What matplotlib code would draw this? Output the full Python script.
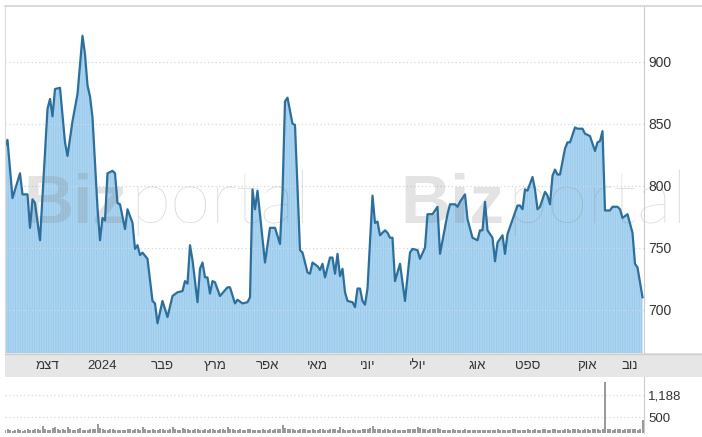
import matplotlib
matplotlib.use("Agg")
import matplotlib.pyplot as plt
from matplotlib.patches import Rectangle
from matplotlib.lines import Line2D

plt.rcParams['font.family'] = ['Liberation Sans', 'DejaVu Sans']
plt.rcParams['hatch.linewidth'] = 0.6

# --- Datos (sesiones de bolsa, aprox. nov 2023 - nov 2024) ---
sessions = [0, 1, 3, 6, 7, 9, 10, 11, 12, 14, 17, 18, 19, 20, 22, 24, 25, 27, 29, 31,
            32, 33, 34, 35, 37, 38, 39, 40, 41, 43, 44, 45, 46, 48, 49, 51, 52, 53, 54, 55,
            57, 59, 60, 61, 63, 65, 67, 69, 71, 72, 73, 74, 75, 77, 78, 79, 80, 81, 82, 83,
            84, 86, 89, 90, 92, 93, 95, 97, 98, 99, 100, 101, 104, 106, 108, 110, 111, 112, 113, 115,
            116, 118, 119, 121, 122, 123, 125, 126, 127, 128, 130, 131, 132, 133, 134, 135, 136, 137, 139, 140,
            141, 142, 143, 144, 145, 147, 148, 149, 150, 152, 153, 154, 155, 156, 158, 160, 162, 163, 165, 166,
            168, 169, 171, 173, 174, 177, 178, 180, 181, 182, 184, 185, 187, 189, 190, 191, 192, 193, 195, 196,
            197, 199, 200, 201, 205, 206, 207, 208, 209, 211, 212, 213, 214, 216, 217, 218, 219, 220, 221, 222,
            224, 225, 226, 228, 229, 231, 232, 233, 234, 236, 237, 238, 239, 240, 242, 243, 245, 246, 247, 249,
            251, 252, 253, 255]
prices = [832, 837, 790, 810, 793, 793, 766, 789, 786, 756, 862, 870, 856, 878, 879, 835, 824, 852, 874, 921,
          906, 881, 872, 855, 782, 756, 774, 772, 810, 812, 810, 786, 785, 765, 781, 770, 749, 752, 744, 746,
          741, 707, 705, 689, 707, 694, 711, 714, 715, 723, 721, 752, 740, 706, 733, 738, 726, 726, 713, 723,
          722, 711, 718, 718, 705, 708, 705, 706, 710, 797, 781, 796, 738, 766, 766, 753, 794, 868, 871, 850,
          849, 748, 746, 730, 729, 738, 735, 732, 737, 726, 742, 742, 729, 745, 727, 733, 714, 707, 706, 702,
          717, 717, 707, 704, 717, 792, 770, 771, 760, 764, 762, 758, 758, 723, 737, 707, 746, 749, 748, 741,
          750, 777, 777, 783, 745, 777, 785, 785, 783, 787, 793, 773, 758, 756, 764, 764, 787, 764, 758, 739,
          754, 760, 745, 761, 784, 784, 781, 797, 796, 807, 797, 781, 783, 795, 792, 785, 808, 813, 809, 809,
          830, 835, 835, 847, 846, 846, 842, 841, 840, 828, 835, 836, 844, 780, 780, 783, 783, 781, 774, 777,
          762, 737, 734, 710]

volume = [90, 110, 80, 70, 95, 120, 85, 75, 100, 130, 90, 80, 140, 110, 95, 210,
          120, 100, 85, 160, 200, 110, 90, 130, 100, 190, 120, 95, 85, 110, 150, 100,
          90, 80, 120, 140, 110, 290, 150, 120, 95, 85, 110, 130, 100, 90, 80, 105,
          95, 120, 110, 90, 140, 125, 100, 190, 110, 85, 95, 130, 100, 90, 120, 110,
          95, 105, 140, 190, 120, 100, 90, 150, 130, 110, 95, 100, 140, 120, 90, 105,
          110, 95, 130, 140, 100, 90, 120, 110, 105, 200, 130, 110, 95, 100, 120, 90,
          85, 110, 130, 100, 95, 90, 105, 115, 100, 95, 120, 100, 140, 110, 130, 250,
          150, 120, 110, 130, 100, 90, 120, 140, 110, 100, 95, 130, 105, 90, 110, 120,
          100, 95, 110, 140, 120, 100, 180, 110, 95, 90, 100, 110, 95, 85, 100, 120,
          110, 130, 150, 210, 140, 120, 110, 100, 130, 120, 100, 95, 110, 90, 100, 105,
          95, 110, 120, 140, 130, 190, 150, 120, 110, 100, 130, 120, 140, 170, 120, 100,
          95, 90, 100, 110, 95, 85, 90, 100, 110, 95, 90, 100, 85, 95, 100, 90,
          95, 100, 90, 85, 100, 110, 95, 90, 100, 105, 95, 110, 120, 100, 95, 90,
          100, 110, 95, 105, 120, 100, 95, 110, 130, 100, 95, 120, 110, 100, 95, 105,
          110, 130, 100, 120, 110, 140, 100, 95, 120, 110, 100, 130, 120, 110, 100, 130,
          1600, 120, 110, 100, 130, 120, 110, 100, 140, 120, 110, 130, 120, 100, 140, 400]

month_pos = [17, 39, 63, 84, 105, 125, 145, 165, 189, 209, 233, 250]
month_labels = ['דצמ', '2024', 'פבר', 'מרץ', 'אפר', 'מאי', 'יוני', 'יולי', 'אוג', 'ספט', 'אוק', 'נוב']
price_ticks = [700, 750, 800, 850, 900]
vol_ticks = [500, 1188]

# --- Figura ---
W, H = 702, 437
fig = plt.figure(figsize=(W / 100, H / 100), dpi=100)


def box(x0, y0, x1, y1):
    return [x0 / W, 1 - y1 / H, (x1 - x0) / W, (y1 - y0) / H]


ax = fig.add_axes(box(5, 6, 644, 353))
axv = fig.add_axes(box(5, 377, 644, 433))

# banda gris de meses y bordes
fig.add_artist(Rectangle((5 / W, 1 - 377 / H), (W - 5) / W, 24 / H, transform=fig.transFigure,
                         facecolor='#e6e6e6', edgecolor='none', zorder=-1))
fig.add_artist(Line2D([5 / W, 1], [1 - 353.5 / H] * 2, transform=fig.transFigure, color='#cfcfcf', lw=1))
fig.add_artist(Line2D([5 / W, 1], [1 - 6 / H] * 2, transform=fig.transFigure, color='#d3d3d3', lw=1.2))

# Precio
ax.fill_between(sessions, prices, 0, facecolor='#acd5f1', edgecolor='#98c8ea', hatch='|' * 7,
                linewidth=0, zorder=1)
for v in price_ticks:
    ax.axhline(v, ls=(0, (1, 2)), color='#d0d8e0', lw=0.9, zorder=1.2)
ax.plot(sessions, prices, color='#2c6f9c', lw=1.6, zorder=2)

# marca de agua
for x0 in (23, 400):
    ax.text(x0 / W, 1 - 223 / H, 'Biz', transform=fig.transFigure, fontsize=50, fontweight='bold',
            color='#808080', alpha=0.22, zorder=1.5, family='Liberation Sans')
    ax.text((x0 + 107) / W, 1 - 223 / H, 'portal', transform=fig.transFigure, fontsize=53,
            fontweight='light', color='#808080', alpha=0.3, zorder=1.5, family='Lato')

ax.set_xlim(0, 255.6)
ax.set_ylim(665, 945)
ax.yaxis.tick_right()
ax.set_yticks(price_ticks)
ax.set_xticks(month_pos, [m[::-1] if not m.isdigit() else m for m in month_labels])
ax.tick_params(axis='y', length=0, pad=3, labelsize=10, labelcolor='#333333')
ax.tick_params(axis='x', length=0, pad=5, labelsize=9.5, labelcolor='#333333')
for s in ('top', 'bottom'):
    ax.spines[s].set_visible(False)
ax.spines['left'].set_color('#dcdcdc')
ax.spines['right'].set_color('#cccccc')

# Volumen
for v in vol_ticks:
    axv.axhline(v, ls=(0, (1, 2)), color='#d0d8e0', lw=0.9, zorder=0.5)
axv.bar(range(len(volume)), volume, width=0.8, color='#9a9a9a', zorder=1)
axv.set_xlim(0, 255.6)
axv.set_ylim(0, 1750)
axv.yaxis.tick_right()
axv.set_yticks(vol_ticks, [f"{v:,}" for v in vol_ticks])
axv.set_xticks([])
axv.tick_params(axis='y', length=0, pad=3, labelsize=9.5, labelcolor='#333333')
for s in ('top', 'bottom', 'left'):
    axv.spines[s].set_visible(False)
axv.spines['right'].set_color('#cccccc')

fig.savefig("out.png", dpi=100)
